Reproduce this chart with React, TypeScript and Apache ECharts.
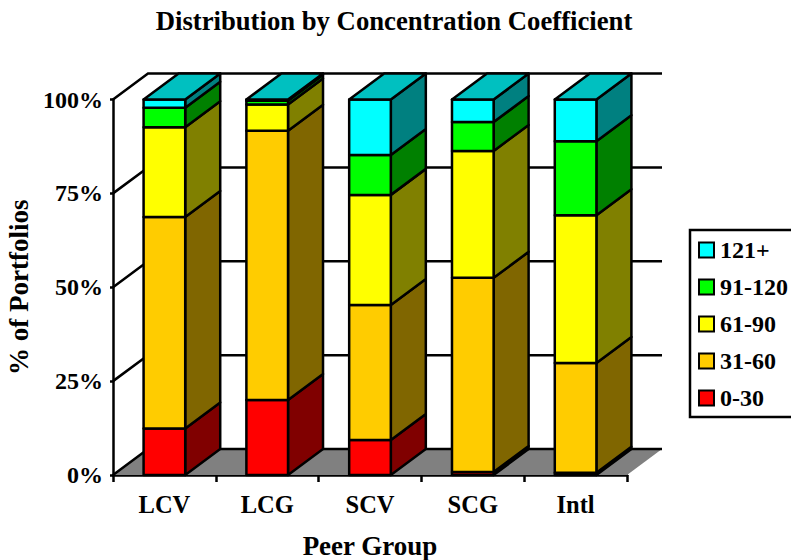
import React, { useEffect, useRef } from "react";
import * as echarts from "echarts";

const categories = ["LCV", "LCG", "SCV", "SCG", "Intl"];
const bands = ["0-30", "31-60", "61-90", "91-120", "121+"];
const band0to30 = [12.4, 20, 9.3, 0.8, 0.6];
const band31to60 = [56.3, 71.7, 36, 51.7, 29.2];
const band61to90 = [23.9, 7, 29.3, 33.8, 39.4];
const band91to120 = [5.2, 1, 10.6, 7.7, 19.7];
const band121plus = [2.2, 0.3, 14.8, 6, 11.1];
const bandValues = [band0to30, band31to60, band61to90, band91to120, band121plus];
const yTicks = [0, 25, 50, 75, 100];

const frontColors = ["#FF0000", "#FFCC00", "#FFFF00", "#00FF00", "#00FFFF"];
const sideColors = ["#800000", "#806600", "#808000", "#008000", "#008080"];
const topColor = "#00C0C0";
const DX = 35;
const DY = -26;
const BAR_RATIO = 0.405;
const LW = 2.5;
const FONT = "'Liberation Serif', 'Times New Roman', serif";

function wallItem(params: any, api: any) {
  const v = api.value(0);
  const cs = params.coordSys;
  const y = api.coord([0, v])[1];
  const x0 = cs.x;
  const x1 = cs.x + cs.width;
  const lineStyle = { stroke: "#000", lineWidth: LW, fill: "none" };
  const children: any[] = [];
  if (v === 0) {
    children.push({
      type: "polygon",
      shape: { points: [[x0, y], [x0 + DX, y + DY], [x1 + DX, y + DY], [x1, y]] },
      style: { fill: "#808080", stroke: "none" },
    });
  }
  children.push({
    type: "polyline",
    shape: { points: [[x0, y], [x0 + DX, y + DY], [x1 + DX, y + DY]] },
    style: lineStyle,
  });
  return { type: "group", children };
}

function barItem(seriesIndex: number) {
  return (_params: any, api: any) => {
    const cat = api.value(0);
    const lo = api.coord([cat, api.value(1)]);
    const hi = api.coord([cat, api.value(2)]);
    const w = api.size([1, 0])[0] * BAR_RATIO;
    const l = lo[0] - w / 2;
    const r = lo[0] + w / 2;
    const stroke = { stroke: "#000", lineWidth: LW, lineJoin: "round" };
    const children: any[] = [
      {
        type: "polygon",
        shape: { points: [[r, lo[1]], [r + DX, lo[1] + DY], [r + DX, hi[1] + DY], [r, hi[1]]] },
        style: { fill: sideColors[seriesIndex], ...stroke },
      },
      {
        type: "polygon",
        shape: { points: [[l, lo[1]], [r, lo[1]], [r, hi[1]], [l, hi[1]]] },
        style: { fill: frontColors[seriesIndex], ...stroke },
      },
    ];
    if (seriesIndex === bands.length - 1) {
      children.push({
        type: "polygon",
        shape: { points: [[l, hi[1]], [r, hi[1]], [r + DX, hi[1] + DY], [l + DX, hi[1] + DY]] },
        style: { fill: topColor, ...stroke },
      });
    }
    return { type: "group", children };
  };
}

export default function App() {
  const ref = useRef<HTMLDivElement>(null);
  useEffect(() => {
    document.body.style.margin = "0";
    const chart = echarts.init(ref.current!, undefined, { renderer: "svg" });
    const totals = categories.map(() => 0);
    const barSeries = bands.map((name, i) => {
      const data = categories.map((_, c) => {
        const start = totals[c];
        const end = start + bandValues[i][c];
        totals[c] = end;
        return [c, start, end];
      });
      return {
        type: "custom",
        name,
        data,
        encode: { x: 0, y: [1, 2] },
        itemStyle: { color: frontColors[i] },
        renderItem: barItem(i),
        silent: true,
      };
    });
    chart.setOption({
      animation: false,
      backgroundColor: "#fff",
      title: {
        text: "Distribution by Concentration Coefficient",
        left: 389,
        textAlign: "center",
        top: 2,
        textStyle: { fontFamily: FONT, fontWeight: "bold", fontSize: 26.7, color: "#000" },
      },
      grid: { left: 113, width: 514, top: 99.5, height: 375.5, outerBoundsMode: "none", containLabel: false },
      legend: {
        left: 690,
        top: 230,
        orient: "vertical",
        data: [...bands].reverse(),
        icon: "rect",
        itemWidth: 15,
        itemHeight: 15,
        itemGap: 13,
        padding: [8, 10, 7, 8],
        borderColor: "#000",
        borderWidth: 2.5,
        backgroundColor: "#fff",
        selectedMode: false,
        itemStyle: { borderColor: "#000", borderWidth: 2 },
        textStyle: { fontFamily: FONT, fontWeight: "bold", fontSize: 24, color: "#000", padding: [0, 0, 0, 1], lineHeight: 24 },
      },
      xAxis: {
        type: "category",
        data: categories,
        name: "Peer Group",
        nameLocation: "middle",
        nameGap: 57,
        nameTextStyle: { fontFamily: FONT, fontWeight: "bold", fontSize: 27, color: "#000" },
        axisLine: { lineStyle: { color: "#000", width: 2.5 } },
        axisTick: { show: true, length: 7, lineStyle: { color: "#000", width: 2.5 } },
        axisLabel: { fontFamily: FONT, fontWeight: "bold", fontSize: 24.5, color: "#000", margin: 17 },
        splitLine: { show: false },
      },
      yAxis: {
        type: "value",
        min: 0,
        max: 100,
        interval: 25,
        name: "% of Portfolios",
        nameLocation: "middle",
        nameGap: 79,
        nameTextStyle: { fontFamily: FONT, fontWeight: "bold", fontSize: 27, color: "#000" },
        axisLine: { show: true, lineStyle: { color: "#000", width: 2.5 } },
        axisTick: { show: true, length: 3, lineStyle: { color: "#000", width: 2.5 } },
        axisLabel: { fontFamily: FONT, fontWeight: "bold", fontSize: 24, color: "#000", margin: 10, formatter: "{value}%" },
        splitLine: { show: false },
      },
      series: [
        {
          type: "custom",
          name: "walls",
          data: yTicks.map((t) => [t]),
          encode: { y: 0 },
          renderItem: wallItem,
          silent: true,
        },
        ...barSeries,
      ],
    });
    return () => chart.dispose();
  }, []);
  return <div ref={ref} style={{ width: 791, height: 560 }} />;
}
